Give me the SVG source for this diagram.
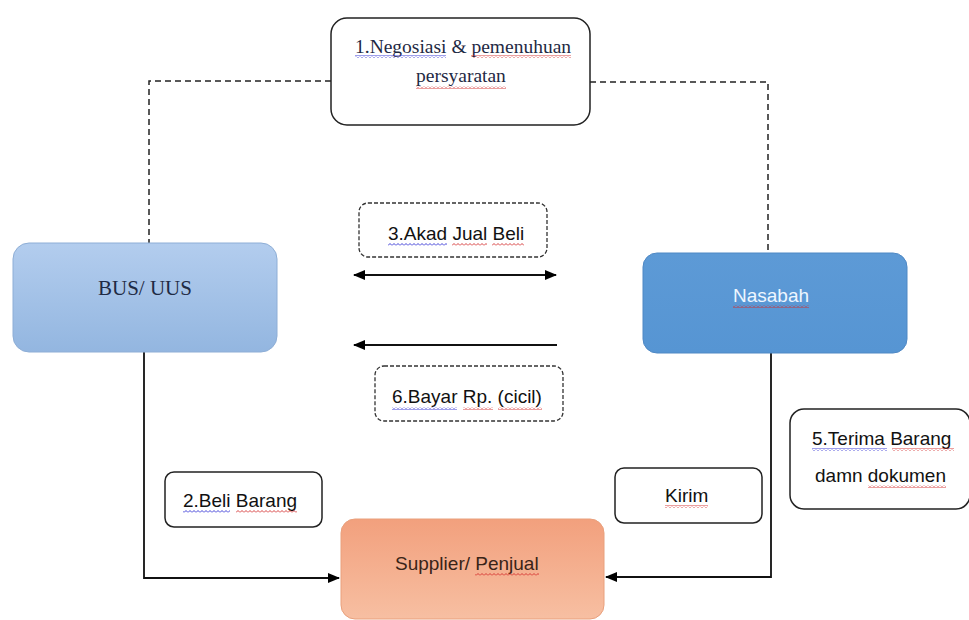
<svg xmlns="http://www.w3.org/2000/svg" width="969" height="620" viewBox="0 0 969 620">
<defs>
<linearGradient id="gBus" x1="0" y1="0" x2="0" y2="1"><stop offset="0" stop-color="#b3cdee"/><stop offset="1" stop-color="#93b6e0"/></linearGradient>
<linearGradient id="gNas" x1="0" y1="0" x2="0" y2="1"><stop offset="0" stop-color="#5d9ad6"/><stop offset="1" stop-color="#5695d3"/></linearGradient>
<linearGradient id="gSup" x1="0" y1="0" x2="0" y2="1"><stop offset="0" stop-color="#f2a07d"/><stop offset="1" stop-color="#f7bfa2"/></linearGradient>
<pattern id="wr" width="4" height="3" patternUnits="userSpaceOnUse"><path d="M0,2.5 L2,0.5 L4,2.5" fill="none" stroke="#d42a2a" stroke-width="0.9"/></pattern>
<pattern id="wb" width="4" height="3" patternUnits="userSpaceOnUse"><path d="M0,2.5 L2,0.5 L4,2.5" fill="none" stroke="#2a2ad4" stroke-width="0.9"/></pattern>
<marker id="ah" markerWidth="12" markerHeight="10" refX="11" refY="5" orient="auto-start-reverse" markerUnits="userSpaceOnUse"><path d="M0,0 L12,5 L0,10 Z" fill="#000"/></marker>
</defs>
<style>
.sans{font-family:"Liberation Sans",Arial,sans-serif;font-size:19px;fill:#111}
.serif{font-family:"Liberation Serif","Times New Roman",serif;fill:#1f2a44}
.box{fill:#fff;stroke:#222;stroke-width:1.5}
.dbox{fill:#fff;stroke:#333;stroke-width:1.3;stroke-dasharray:4 2}
.conn{fill:none;stroke:#111;stroke-width:1.8}
.dash{fill:none;stroke:#222;stroke-width:1.5;stroke-dasharray:6 4}
</style>
<rect width="969" height="620" fill="#fff"/>
<g id="connectors">
<path class="dash" d="M331,81 H149 V243"/>
<path class="dash" d="M590,82 H768 V253"/>
<path class="conn" d="M144,352 V578 H339" marker-end="url(#ah)"/>
<path class="conn" d="M771,353 V577 H606" marker-end="url(#ah)"/>
<path class="conn" d="M354,275 H556" marker-start="url(#ah)" marker-end="url(#ah)"/>
<path class="conn" d="M557,345 H354" marker-end="url(#ah)"/>
</g>
<g id="negosiasi">
<rect class="box" x="331" y="18" width="259" height="107" rx="16"/>
<text class="serif" x="355" y="53" font-size="19.5">1.Negosiasi &amp; pemenuhuan</text>
<text class="serif" x="416" y="82" font-size="19.5">persyaratan</text>
<rect x="355" y="55" width="91" height="3" fill="url(#wb)"/>
<rect x="471" y="55" width="100" height="3" fill="url(#wr)"/>
<rect x="416" y="86" width="90" height="3" fill="url(#wr)"/>
</g>
<g id="bus">
<rect x="13" y="243" width="264" height="109" rx="16" fill="url(#gBus)" stroke="#8eaed6" stroke-width="1"/>
<text class="serif" x="145" y="295" font-size="21" text-anchor="middle" fill="#1f2a44">BUS/ UUS</text>
</g>
<g id="nasabah">
<rect x="643" y="253" width="264" height="100" rx="14" fill="url(#gNas)" stroke="#4f88c4" stroke-width="1"/>
<text class="sans" x="733" y="302" style="fill:#eef6ff">Nasabah</text>
<rect x="733" y="305" width="76" height="3" fill="url(#wr)"/>
</g>
<g id="akad">
<rect class="dbox" x="359" y="203" width="188" height="54" rx="9"/>
<text class="sans" x="388" y="240">3.Akad Jual Beli</text>
<rect x="388" y="243" width="59" height="3" fill="url(#wb)"/>
<rect x="452" y="243" width="35" height="3" fill="url(#wr)"/>
<rect x="492" y="243" width="32" height="3" fill="url(#wr)"/>
</g>
<g id="bayar">
<rect class="dbox" x="375" y="366" width="188" height="55" rx="9"/>
<text class="sans" x="392" y="403">6.Bayar Rp. (cicil)</text>
<rect x="392" y="407" width="65" height="3" fill="url(#wb)"/>
<rect x="463" y="407" width="30" height="3" fill="url(#wr)"/>
<rect x="498" y="407" width="44" height="3" fill="url(#wr)"/>
</g>
<g id="beli">
<rect class="box" x="165" y="472" width="157" height="55" rx="9"/>
<text class="sans" x="183" y="507">2.Beli Barang</text>
<rect x="183" y="510" width="47" height="3" fill="url(#wb)"/>
<rect x="236" y="510" width="61" height="3" fill="url(#wr)"/>
</g>
<g id="supplier">
<rect x="341" y="519" width="263" height="100" rx="14" fill="url(#gSup)" stroke="#e9a07c" stroke-width="1"/>
<text class="sans" x="395" y="570" style="fill:#3a2418">Supplier/ Penjual</text>
<rect x="475" y="573" width="64" height="3" fill="url(#wr)"/>
</g>
<g id="kirim">
<rect class="box" x="615" y="468" width="147" height="55" rx="9"/>
<text class="sans" x="665" y="502">Kirim</text>
<rect x="665" y="505" width="43" height="3" fill="url(#wr)"/>
</g>
<g id="terima">
<rect class="box" x="790" y="409" width="180" height="100" rx="14"/>
<text class="sans" x="812" y="445">5.Terima Barang</text>
<text class="sans" x="815" y="482">damn dokumen</text>
<rect x="812" y="448" width="75" height="3" fill="url(#wb)"/>
<rect x="892" y="448" width="62" height="3" fill="url(#wr)"/>
<rect x="868" y="485" width="78" height="3" fill="url(#wr)"/>
</g>
</svg>
